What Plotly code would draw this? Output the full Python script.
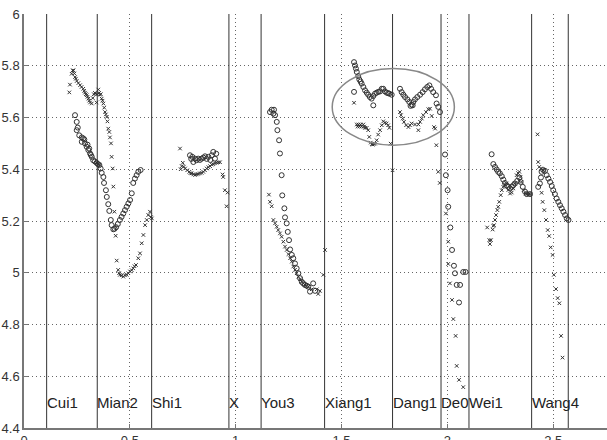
import plotly.graph_objects as go

# Well boundaries and names
well_names = ["Cui1", "Mian2", "Shi1", "X", "You3", "Xiang1", "Dang1", "De0", "Wei1", "Wang4"]
well_x = [0.107, 0.346, 0.603, 0.968, 1.120, 1.420, 1.741, 1.970, 2.102, 2.398]
extra_line_x = [2.571]
label_y = 4.5

# Series 1: circles
circ_x = [
    0.241, 0.249, 0.254, 0.249, 0.261, 0.273, 0.280, 0.273, 0.288, 0.285, 0.296, 0.300, 0.304, 0.308,
    0.312, 0.316, 0.320, 0.327, 0.335, 0.343, 0.349, 0.356, 0.362, 0.367, 0.375, 0.378, 0.387, 0.391,
    0.398, 0.403, 0.410, 0.414, 0.422, 0.428, 0.435, 0.443, 0.453, 0.461, 0.469, 0.477, 0.485, 0.493,
    0.501, 0.509, 0.516, 0.524, 0.532, 0.540, 0.551,
    0.784, 0.790, 0.795, 0.800, 0.808, 0.815, 0.823, 0.831, 0.839, 0.847, 0.855, 0.863, 0.871, 0.880,
    0.887, 0.894, 0.902, 0.908,
    1.162, 1.170, 1.181, 1.178, 1.186, 1.194, 1.197, 1.205, 1.209, 1.217, 1.220, 1.230, 1.233, 1.241,
    1.246, 1.252, 1.257, 1.265, 1.272, 1.280, 1.288, 1.296, 1.304, 1.312, 1.319, 1.327, 1.335, 1.343,
    1.351, 1.366, 1.375,
    1.559, 1.564, 1.568, 1.572, 1.579, 1.584, 1.590, 1.595, 1.603, 1.611, 1.619, 1.626, 1.634, 1.642,
    1.650, 1.658, 1.666, 1.674, 1.682, 1.690, 1.697, 1.705, 1.713, 1.720, 1.726, 1.737, 1.559, 1.650,
    1.776, 1.784, 1.792, 1.800, 1.811, 1.820, 1.831, 1.839, 1.847, 1.858, 1.871, 1.883, 1.894, 1.905,
    1.915, 1.923, 1.933, 1.946, 1.949, 1.957, 1.965, 1.826, 1.836,
    1.989, 1.993, 2.001, 2.004, 2.014, 2.022, 2.031, 2.036, 2.044, 2.060, 2.055, 2.075, 2.086,
    2.209, 2.217, 2.225, 2.233, 2.240, 2.248, 2.257, 2.264, 2.272, 2.280, 2.288, 2.296, 2.304, 2.311,
    2.319, 2.330, 2.340, 2.346, 2.356, 2.367, 2.375, 2.390,
    2.429, 2.437, 2.442, 2.445, 2.453, 2.461, 2.469, 2.477, 2.485, 2.493, 2.500, 2.508, 2.516, 2.524,
    2.532, 2.540, 2.548, 2.556, 2.564, 2.572,
]
circ_y = [
    5.609, 5.583, 5.561, 5.551, 5.531, 5.523, 5.519, 5.506, 5.500, 5.515, 5.487, 5.495, 5.474, 5.480,
    5.461, 5.455, 5.448, 5.435, 5.430, 5.425, 5.420, 5.416, 5.403, 5.386, 5.370, 5.347, 5.319, 5.293,
    5.265, 5.239, 5.204, 5.184, 5.168, 5.170, 5.176, 5.188, 5.204, 5.216, 5.229, 5.242, 5.255, 5.268,
    5.281, 5.307, 5.347, 5.364, 5.377, 5.390, 5.397,
    5.454, 5.440, 5.448, 5.428, 5.441, 5.435, 5.441, 5.436, 5.441, 5.445, 5.450, 5.440, 5.448, 5.436,
    5.454, 5.467, 5.441, 5.460,
    5.621, 5.630, 5.630, 5.615, 5.609, 5.583, 5.551, 5.512, 5.461, 5.377, 5.299, 5.249, 5.214, 5.191,
    5.158, 5.126, 5.090, 5.069, 5.056, 5.036, 5.017, 4.998, 4.979, 4.965, 4.959, 4.953, 4.950, 4.946,
    4.927, 4.959, 4.930,
    5.814, 5.801, 5.789, 5.776, 5.760, 5.747, 5.739, 5.731, 5.718, 5.705, 5.696, 5.688, 5.679, 5.673,
    5.683, 5.692, 5.696, 5.699, 5.701, 5.711, 5.711, 5.701, 5.696, 5.694, 5.692, 5.688, 5.699, 5.647,
    5.711, 5.698, 5.688, 5.679, 5.670, 5.660, 5.650, 5.660, 5.670, 5.679, 5.688, 5.698, 5.709, 5.718,
    5.724, 5.711, 5.698, 5.686, 5.654, 5.641, 5.621, 5.645, 5.647,
    5.457, 5.377, 5.319, 5.255, 5.175, 5.088, 5.027, 4.998, 4.953, 4.953, 4.885, 5.003, 5.003,
    5.458, 5.420, 5.409, 5.399, 5.390, 5.384, 5.373, 5.360, 5.347, 5.338, 5.332, 5.326, 5.332, 5.338,
    5.345, 5.355, 5.368, 5.351, 5.332, 5.313, 5.304, 5.304,
    5.332, 5.345, 5.368, 5.390, 5.397, 5.394, 5.377, 5.364, 5.351, 5.335, 5.319, 5.304, 5.287, 5.274,
    5.261, 5.249, 5.236, 5.223, 5.210, 5.204,
]

# Series 2: crosses
cross_x = [
    0.214, 0.217, 0.225, 0.230, 0.234, 0.238, 0.241, 0.245, 0.249, 0.257, 0.265, 0.272, 0.280, 0.284,
    0.288, 0.292, 0.296, 0.300, 0.304, 0.308, 0.312, 0.320, 0.325, 0.330, 0.335, 0.339, 0.343, 0.347,
    0.351, 0.355, 0.359, 0.363, 0.367, 0.371, 0.375, 0.379, 0.383, 0.387, 0.391, 0.394, 0.398, 0.403,
    0.406, 0.411, 0.414, 0.419, 0.422, 0.427, 0.433, 0.438, 0.445, 0.449, 0.453, 0.461, 0.469, 0.477,
    0.485, 0.493, 0.501, 0.509, 0.516, 0.522, 0.529, 0.540, 0.548, 0.556, 0.564, 0.572, 0.580, 0.587,
    0.595, 0.600, 0.604, 0.345, 0.350, 0.355,
    0.737, 0.740, 0.745, 0.750, 0.755, 0.761, 0.771, 0.781, 0.786, 0.792, 0.800, 0.808, 0.816, 0.823,
    0.831, 0.839, 0.847, 0.855, 0.863, 0.871, 0.879, 0.887, 0.894, 0.902, 0.910, 0.918, 0.926, 0.938,
    0.941, 0.949, 0.957, 0.962,
    1.157, 1.162, 1.170, 1.178, 1.186, 1.194, 1.201, 1.209, 1.217, 1.225, 1.233, 1.241, 1.249, 1.257,
    1.265, 1.272, 1.280, 1.288, 1.296, 1.304, 1.312, 1.327, 1.343, 1.359, 1.383, 1.390, 1.398, 1.414,
    1.422,
    1.559, 1.572, 1.576, 1.580, 1.585, 1.590, 1.595, 1.603, 1.607, 1.611, 1.619, 1.626, 1.631, 1.638,
    1.643, 1.647, 1.652, 1.658, 1.666, 1.673, 1.682, 1.690, 1.697, 1.705, 1.713, 1.720, 1.726, 1.732,
    1.741,
    1.776, 1.781, 1.789, 1.795, 1.805, 1.816, 1.823, 1.831, 1.847, 1.863, 1.863, 1.871, 1.879, 1.886,
    1.899, 1.910, 1.918, 1.926, 1.937, 1.942, 1.948, 1.957, 1.964,
    1.993, 2.004, 2.004, 2.012, 2.022, 2.028, 2.039, 2.044, 2.055, 2.075,
    2.188, 2.198, 2.206, 2.201, 2.214, 2.217, 2.220, 2.225, 2.230, 2.236, 2.240, 2.245, 2.252, 2.257,
    2.264, 2.272, 2.280, 2.288, 2.296, 2.304, 2.311, 2.319, 2.327, 2.334, 2.340, 2.345, 2.350, 2.360,
    2.370, 2.378, 2.385, 2.392,
    2.426, 2.429, 2.434, 2.442, 2.453, 2.445, 2.450, 2.458, 2.466, 2.474, 2.481, 2.488, 2.497, 2.503,
    2.513, 2.521, 2.529, 2.537, 2.544,
]
cross_y = [
    5.697, 5.727, 5.769, 5.782, 5.782, 5.770, 5.756, 5.750, 5.741, 5.733, 5.725, 5.718, 5.711, 5.703,
    5.696, 5.690, 5.686, 5.680, 5.673, 5.665, 5.658, 5.654, 5.675, 5.690, 5.695, 5.692, 5.658, 5.690,
    5.708, 5.695, 5.688, 5.690, 5.673, 5.665, 5.654, 5.638, 5.621, 5.612, 5.602, 5.585, 5.557, 5.544,
    5.523, 5.500, 5.448, 5.403, 5.333, 5.236, 5.143, 5.047, 5.011, 4.998, 4.992, 4.990, 4.985, 4.990,
    4.992, 4.998, 5.005, 5.010, 5.017, 5.025, 5.030, 5.056, 5.075, 5.114, 5.146, 5.184, 5.204, 5.223,
    5.236, 5.215, 5.210, 5.425, 5.420, 5.418,
    5.480, 5.400, 5.412, 5.425, 5.410, 5.403, 5.396, 5.390, 5.385, 5.384, 5.380, 5.378, 5.380, 5.382,
    5.384, 5.386, 5.390, 5.396, 5.403, 5.408, 5.412, 5.418, 5.420, 5.423, 5.425, 5.427, 5.427, 5.380,
    5.370, 5.319, 5.257, 5.310,
    5.302, 5.274, 5.257, 5.204, 5.191, 5.178, 5.165, 5.152, 5.139, 5.120, 5.101, 5.088, 5.072, 5.056,
    5.043, 5.024, 5.011, 4.998, 4.985, 4.975, 4.965, 4.953, 4.946, 4.936, 4.936, 4.918, 4.930, 4.992,
    5.088,
    5.657, 5.573, 5.565, 5.573, 5.565, 5.573, 5.565, 5.573, 5.565, 5.560, 5.560, 5.551, 5.525, 5.503,
    5.497, 5.495, 5.497, 5.499, 5.512, 5.534, 5.551, 5.570, 5.585, 5.580, 5.577, 5.570, 5.560, 5.499,
    5.396,
    5.621, 5.609, 5.596, 5.583, 5.570, 5.563, 5.570, 5.577, 5.573, 5.573, 5.551, 5.583, 5.596, 5.609,
    5.621, 5.632, 5.634, 5.606, 5.563, 5.557, 5.493, 5.390, 5.347,
    5.229, 5.120, 5.034, 4.959, 4.895, 4.821, 4.756, 4.640, 4.586, 4.558,
    5.175, 5.126, 5.126, 5.111, 5.167, 5.181, 5.184, 5.204, 5.223, 5.242, 5.255, 5.274, 5.300, 5.319,
    5.332, 5.340, 5.345, 5.320, 5.306, 5.310, 5.326, 5.345, 5.377, 5.385, 5.390, 5.370, 5.351, 5.319,
    5.306, 5.304, 5.304, 5.304,
    5.535, 5.428, 5.409, 5.403, 5.397, 5.309, 5.274, 5.242, 5.204, 5.165, 5.142, 5.098, 5.069, 4.992,
    4.937, 4.902, 4.882, 4.756, 4.672,
]

# Highlight ellipse bounds (data units)
ellipse = dict(x0=1.456, x1=2.033, y0=5.493, y1=5.789)

x_ticks = [0, 0.5, 1, 1.5, 2, 2.5]
y_ticks = [4.4, 4.6, 4.8, 5.0, 5.2, 5.4, 5.6, 5.8, 6.0]

fig = go.Figure()
fig.add_trace(go.Scatter(
    x=circ_x, y=circ_y, mode="markers",
    marker=dict(symbol="circle-open", size=5, color="#333", line=dict(width=1)),
    showlegend=False, hoverinfo="skip"))
fig.add_trace(go.Scatter(
    x=cross_x, y=cross_y, mode="markers",
    marker=dict(symbol="x-thin-open", size=3.5, color="#333", line=dict(width=1, color="#333")),
    showlegend=False, hoverinfo="skip"))

shapes = []
for wx in well_x + extra_line_x:
    shapes.append(dict(type="line", xref="x", yref="paper", x0=wx, x1=wx, y0=0, y1=1,
                       line=dict(color="#333", width=1)))
shapes.append(dict(type="circle", xref="x", yref="y", **ellipse,
                   line=dict(color="#888", width=1.5)))

annotations = []
for name, wx in zip(well_names, well_x):
    annotations.append(dict(x=wx, y=label_y, xref="x", yref="y", text=name, showarrow=False,
                            xanchor="left", yanchor="middle", xshift=-2,
                            font=dict(family="Liberation Sans, Arial", size=15, color="#222")))

fig.update_layout(
    width=607, height=440,
    margin=dict(l=24, r=0, t=13.5, b=12),
    paper_bgcolor="white", plot_bgcolor="white",
    shapes=shapes, annotations=annotations,
    font=dict(family="Liberation Sans, Arial", size=13, color="#333"),
)
fig.update_xaxes(range=[0, 2.754], tickvals=x_ticks, ticktext=[f"{v:g}" for v in x_ticks],
                 showgrid=True, gridcolor="#666", griddash="1px,3px", gridwidth=1,
                 showline=True, linecolor="#777", linewidth=1.5,
                 ticks="inside", ticklen=4, tickcolor="#777", zeroline=False, automargin=False)
fig.update_yaxes(range=[4.4, 6.0], tickvals=y_ticks, ticktext=[f"{v:g}" for v in y_ticks],
                 showgrid=True, gridcolor="#666", griddash="1px,3px", gridwidth=1,
                 showline=True, linecolor="#777", linewidth=1.5,
                 ticks="inside", ticklen=4, tickcolor="#777", zeroline=False, automargin=False)

fig.write_html("out.html", config={"displayModeBar": False},
               post_script="document.body.style.margin='0';")
